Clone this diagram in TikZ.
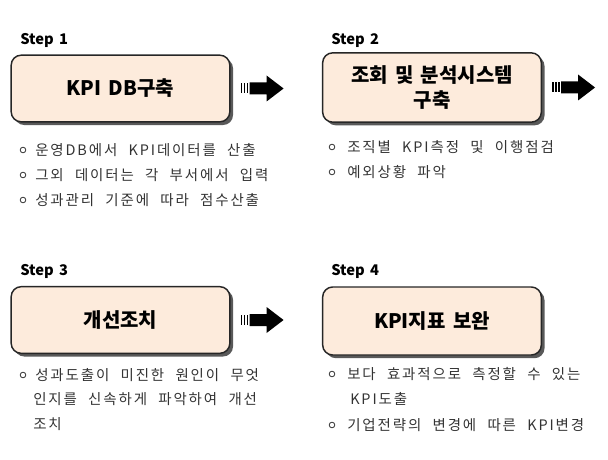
\documentclass[tikz,border=0pt]{standalone}
\usepackage{fontspec}
\setmainfont{Noto Sans CJK KR}[WordSpace=1.6]
\newfontfamily\bodyfont{Noto Sans CJK KR}[LetterSpace=13, WordSpace=2.2]
\usetikzlibrary{shadows}
\definecolor{boxfill}{HTML}{FDEBDC}
\definecolor{bodygray}{HTML}{333333}
\tikzset{
  stepbox/.style={draw=black!85, line width=1.1pt, fill=boxfill, rounded corners=7.5pt,
    minimum width=164pt, minimum height=50pt, align=center,
    font=\fontsize{15pt}{18pt}\selectfont\bfseries,
    drop shadow={shadow xshift=2.4pt, shadow yshift=-2.4pt, fill=black!65, opacity=1}},
  steplabel/.style={anchor=west, inner sep=0pt, font=\fontsize{11pt}{13pt}\selectfont\bfseries},
  bodytext/.style={anchor=west, inner sep=0pt, text=bodygray, font=\bodyfont\fontsize{10.85pt}{12pt}\selectfont},
  bulletdot/.style={circle, draw=bodygray, line width=0.6pt, minimum size=4.2pt, inner sep=0pt},
  pics/blockarrow/.style={code={
    \fill (0,-5) rectangle (1.6,5);
    \fill (3,-5) rectangle (4.6,5);
    \fill (6,-5) rectangle (7.6,5);
    \fill (9,-6) -- (26,-6) -- (26,-13) -- (43,0) -- (26,13) -- (26,6) -- (9,6) -- cycle;
  }}
}
\begin{document}
\begin{tikzpicture}[x=0.75pt, y=-0.75pt]
\useasboundingbox (0,0) rectangle (608,460);

% Step 1
\node[steplabel] (s1) at (20,40) {Step 1};
\node[stepbox] (b1) at (120.5,88.5) {KPI DB구축};
\pic at ([xshift=7.5pt]b1.east) {blockarrow};
\node[bulletdot] (d11) at (23,150) {};
\node[bodytext] (t11) at (35,150) {운영DB에서 KPI데이터를 산출};
\node[bulletdot] (d12) at (23,175) {};
\node[bodytext] (t12) at (35,175) {그외 데이터는 각 부서에서 입력};
\node[bulletdot] (d13) at (23,200) {};
\node[bodytext] (t13) at (35,200) {성과관리 기준에 따라 점수산출};

% Step 2
\node[steplabel] (s2) at (331,40) {Step 2};
\node[stepbox, minimum height=52pt, font=\fontsize{15pt}{19pt}\selectfont\bfseries] (b2) at (432,87.5) {조회 및 분석시스템\\구축};
\pic at ([xshift=7.5pt]b2.east) {blockarrow};
\node[bulletdot] (d21) at (332,147) {};
\node[bodytext] (t21) at (347,147) {조직별 KPI측정 및 이행점검};
\node[bulletdot] (d22) at (332,172) {};
\node[bodytext] (t22) at (347,172) {예외상황 파악};

% Step 3
\node[steplabel] (s3) at (20,271) {Step 3};
\node[stepbox] (b3) at (120.5,320) {개선조치};
\pic at ([xshift=7.5pt]b3.east) {blockarrow};
\node[bulletdot] (d31) at (23,375) {};
\node[bodytext] (t31) at (35,375) {성과도출이 미진한 원인이 무엇};
\node[bodytext] (t32) at (33,399) {인지를 신속하게 파악하여 개선};
\node[bodytext] (t33) at (33,424) {조치};

% Step 4
\node[steplabel] (s4) at (331,271) {Step 4};
\node[stepbox, minimum height=51pt] (b4) at (432,321) {KPI지표 보완};
\node[bulletdot] (d41) at (332,374) {};
\node[bodytext] (t41) at (347,374) {보다 효과적으로 측정할 수 있는};
\node[bodytext] (t42) at (350,399) {KPI도출};
\node[bulletdot] (d43) at (332,425) {};
\node[bodytext] (t43) at (347,425) {기업전략의 변경에 따른 KPI변경};
\end{tikzpicture}
\end{document}
